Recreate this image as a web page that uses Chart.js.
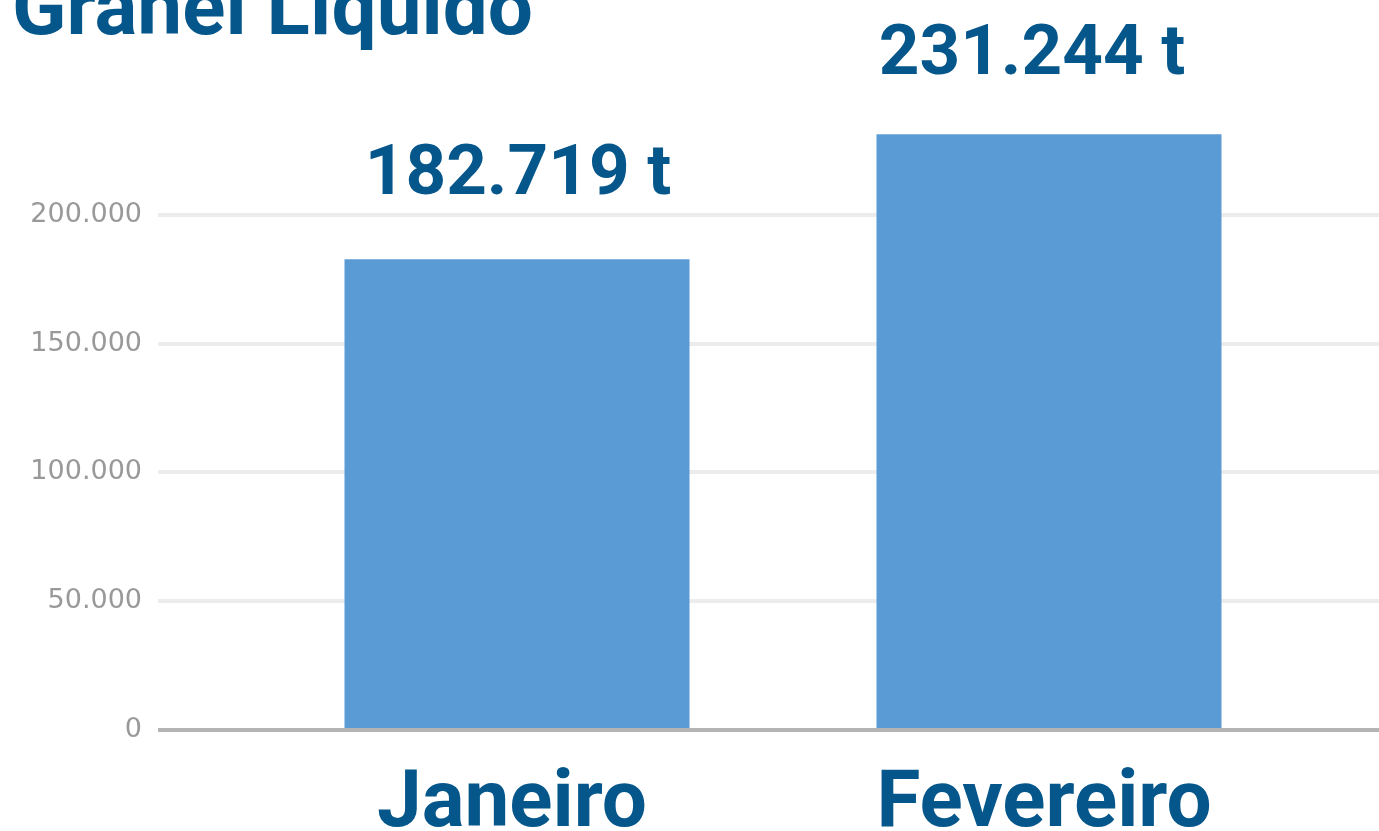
<!DOCTYPE html>
<html>
<head>
<meta charset="utf-8">
<script src="https://cdn.jsdelivr.net/npm/chart.js@4"></script>
<style>
  html, body { margin: 0; padding: 0; background: #fff; overflow: hidden; }
  canvas { display: block; }
</style>
</head>
<body>
<canvas id="chart" width="1379" height="831"></canvas>
<script>
const title = "Granel Líquido";
const months = ["Janeiro", "Fevereiro"];
const tonnes = [182719, 231244];
const yTicks = [0, 50000, 100000, 150000, 200000];

const blue = "#05568b";

// 182719 -> "182.719"
function fmt(v) {
  return String(v).replace(/\B(?=(\d{3})+(?!\d))/g, ".");
}

function gridColor(ctx) {
  if (ctx.tick && ctx.tick.value === 0) return "#b4b4b4";
  if (ctx.tick && !yTicks.includes(ctx.tick.value)) return "rgba(0,0,0,0)";
  return "#ececec";
}

// title sits partly above the top edge, like the original
const titlePlugin = {
  id: "titleText",
  afterDraw(chart) {
    const ctx = chart.ctx;
    ctx.save();
    ctx.font = "bold 80px Roboto";
    ctx.fillStyle = blue;
    ctx.textAlign = "left";
    ctx.textBaseline = "alphabetic";
    ctx.fillText(title, 12, 34);
    ctx.restore();
  }
};

// value labels above the bars (small per-bar nudges as in the original)
const valueLabels = {
  id: "valueLabels",
  afterDatasetsDraw(chart) {
    const ctx = chart.ctx;
    const meta = chart.getDatasetMeta(0);
    const shift = [[1, -65], [-17, -60]];
    ctx.save();
    ctx.font = "bold 71px Roboto";
    ctx.fillStyle = blue;
    ctx.textAlign = "center";
    ctx.textBaseline = "alphabetic";
    meta.data.forEach((bar, i) => {
      const [dx, dy] = shift[i] || [0, -62];
      ctx.fillText(fmt(tonnes[i]) + " t", bar.x + dx, bar.y + dy);
    });
    ctx.restore();
  }
};

new Chart(document.getElementById("chart"), {
  type: "bar",
  data: {
    labels: months,
    datasets: [{
      data: tonnes,
      backgroundColor: "#5b9bd5",
      borderWidth: 0,
      categoryPercentage: 1,
      barPercentage: 0.6485
    }]
  },
  options: {
    responsive: false,
    animation: false,
    layout: { padding: { top: 86, left: 0, right: 0, bottom: 0 } },
    plugins: {
      legend: { display: false },
      tooltip: { enabled: false }
    },
    scales: {
      x: {
        grid: { display: false },
        border: { display: false },
        ticks: {
          color: blue,
          font: { family: "Roboto", weight: "bold", size: 80 },
          padding: 20,
          labelOffset: -5
        },
        afterFit(s) { s.height = 101; }
      },
      y: {
        min: 0,
        max: 250000,
        border: { display: false },
        grid: {
          color: gridColor,
          lineWidth: 4,
          tickLength: 93
        },
        ticks: {
          stepSize: 50000,
          padding: 16,
          color: "#999999",
          font: { family: "DejaVu Sans", size: 27 },
          callback: v => yTicks.includes(v) ? fmt(v) : ""
        },
        afterFit(s) { s.width = 251; }
      },
      y2: {
        position: "right",
        min: 0,
        max: 250000,
        border: { display: false },
        grid: {
          color: gridColor,
          lineWidth: 4,
          tickLength: 64,
          drawOnChartArea: false
        },
        ticks: { stepSize: 50000, display: false },
        afterFit(s) { s.width = 64; }
      }
    }
  },
  plugins: [titlePlugin, valueLabels]
});
</script>
</body>
</html>
